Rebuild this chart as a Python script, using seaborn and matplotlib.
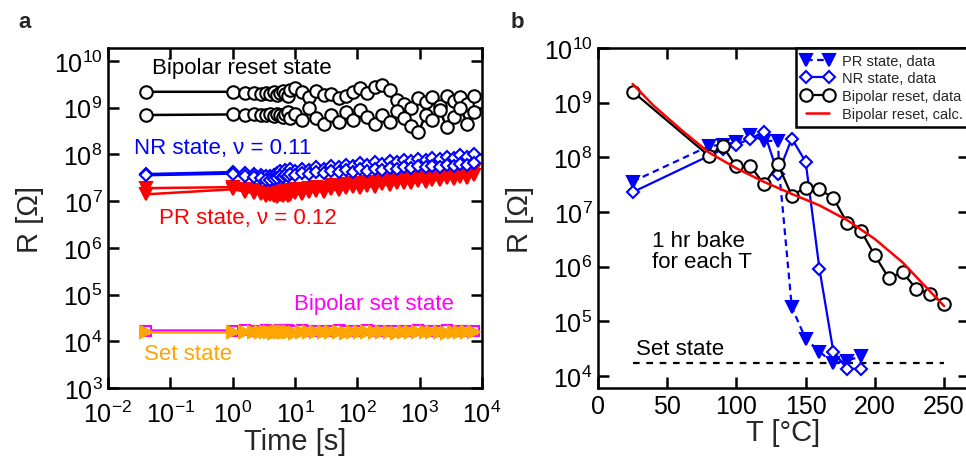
import numpy as np
import pandas as pd
import matplotlib
matplotlib.use("Agg")
import matplotlib.pyplot as plt
import seaborn as sns
from matplotlib.ticker import FixedLocator, FixedFormatter, NullLocator

# ---------------- data: panel a ----------------
time_s = [0.04, 1, 1.6, 2.2, 2.8, 3.4, 4, 4.6, 5.2, 5.8, 6.4, 7, 7.6, 8.3, 10, 13, 17, 22, 29,
          38, 50, 65, 85, 110, 145, 190, 250, 330, 430, 560, 730, 950, 1250, 1600, 2100,
          2700, 3500, 4500, 5800, 7500]
reset_a = [2.2e9, 2.2e9, 2.1e9, 2.1e9, 2.0e9, 2.1e9, 2.0e9, 2.2e9, 1.9e9, 2.1e9, 2.3e9, 2.0e9,
           1.8e9, 2.4e9, 2.6e9, 2.2e9, 1.7e9, 2.3e9, 1.9e9, 2.0e9, 1.6e9, 1.8e9, 2.2e9, 2.6e9,
           2.1e9, 2.8e9, 3.0e9, 2.4e9, 1.5e9, 1.2e9, 1.0e9, 1.6e9, 1.3e9, 1.7e9, 1.1e9, 1.8e9,
           1.4e9, 1.7e9, 1.2e9, 1.8e9]
reset_b = [7.0e8, 7.2e8, 7.0e8, 7.3e8, 6.9e8, 7.1e8, 7.4e8, 6.8e8, 7.5e8, 7.0e8, 6.5e8, 7.2e8,
           8.0e8, 6.0e8, 7.5e8, 5.5e8, 1.0e9, 6.0e8, 4.5e8, 7.0e8, 5.0e8, 8.0e8, 5.5e8, 9.0e8,
           6.5e8, 4.5e8, 7.0e8, 5.0e8, 8.5e8, 6.0e8, 4.0e8, 3.0e8, 7.0e8, 5.5e8, 9.0e8, 3.8e8,
           6.5e8, 1.0e9, 4.5e8, 8.0e8]
nr_a = [3.8e7, 4.2e7, 4.0e7, 3.8e7, 3.6e7, 3.5e7, 3.4e7, 3.6e7, 4.0e7, 4.4e7, 4.0e7, 4.6e7,
        4.2e7, 4.8e7, 4.5e7, 5.0e7, 4.6e7, 5.4e7, 5.0e7, 5.8e7, 5.3e7, 6.0e7, 5.6e7, 6.5e7,
        6.0e7, 6.8e7, 6.3e7, 7.2e7, 6.8e7, 7.6e7, 7.2e7, 8.0e7, 7.6e7, 8.5e7, 8.0e7, 9.0e7,
        8.6e7, 9.6e7, 9.0e7, 1.0e8]
nr_b = [3.6e7, 3.9e7, 3.5e7, 3.3e7, 3.1e7, 2.9e7, 2.8e7, 3.0e7, 3.2e7, 3.4e7, 3.3e7, 3.6e7,
        3.4e7, 3.8e7, 3.6e7, 4.0e7, 3.8e7, 4.2e7, 4.0e7, 4.4e7, 4.2e7, 4.6e7, 4.3e7, 4.8e7,
        4.5e7, 5.0e7, 4.7e7, 5.2e7, 4.9e7, 5.4e7, 5.1e7, 5.6e7, 5.3e7, 5.8e7, 5.5e7, 6.0e7,
        5.7e7, 6.2e7, 5.9e7, 6.5e7]
pr_a = [1.9e7, 2.0e7, 1.8e7, 1.7e7, 1.6e7, 1.5e7, 1.6e7, 1.5e7, 1.4e7, 1.6e7, 1.5e7, 1.7e7,
        1.5e7, 1.6e7, 1.8e7, 1.7e7, 1.9e7, 2.0e7, 1.9e7, 2.2e7, 2.1e7, 2.3e7, 2.4e7, 2.3e7,
        2.6e7, 2.5e7, 2.8e7, 2.7e7, 3.0e7, 3.1e7, 3.0e7, 3.4e7, 3.3e7, 3.6e7, 3.5e7, 3.9e7,
        3.8e7, 4.2e7, 4.1e7, 4.6e7]
pr_b = [1.4e7, 1.8e7, 1.6e7, 1.5e7, 1.4e7, 1.3e7, 1.35e7, 1.3e7, 1.25e7, 1.35e7, 1.3e7, 1.4e7,
        1.3e7, 1.35e7, 1.5e7, 1.4e7, 1.6e7, 1.65e7, 1.6e7, 1.8e7, 1.7e7, 1.9e7, 2.0e7, 1.9e7,
        2.1e7, 2.0e7, 2.3e7, 2.2e7, 2.4e7, 2.5e7, 2.4e7, 2.7e7, 2.6e7, 2.9e7, 2.8e7, 3.1e7,
        3.0e7, 3.3e7, 3.2e7, 3.6e7]
bipolar_set = [1.7e4, 1.7e4, 1.75e4, 1.7e4, 1.7e4, 1.72e4, 1.7e4, 1.68e4, 1.7e4, 1.72e4, 1.7e4,
               1.7e4, 1.71e4, 1.7e4, 1.7e4, 1.72e4, 1.7e4, 1.69e4, 1.7e4, 1.7e4, 1.71e4, 1.7e4,
               1.7e4, 1.7e4, 1.72e4, 1.7e4, 1.7e4, 1.7e4, 1.69e4, 1.7e4, 1.7e4, 1.71e4, 1.7e4,
               1.7e4, 1.7e4, 1.72e4, 1.7e4, 1.7e4, 1.7e4, 1.7e4]
set_state = [1.55e4, 1.55e4, 1.58e4, 1.56e4, 1.55e4, 1.57e4, 1.55e4, 1.54e4, 1.56e4, 1.55e4,
             1.57e4, 1.55e4, 1.56e4, 1.55e4, 1.54e4, 1.56e4, 1.55e4, 1.57e4, 1.55e4, 1.56e4,
             1.55e4, 1.54e4, 1.56e4, 1.55e4, 1.57e4, 1.55e4, 1.56e4, 1.55e4, 1.54e4, 1.56e4,
             1.55e4, 1.57e4, 1.55e4, 1.56e4, 1.55e4, 1.54e4, 1.56e4, 1.55e4, 1.57e4, 1.55e4]

# ---------------- data: panel b ----------------
T_pr = [25, 80, 90, 100, 110, 120, 130, 131, 133, 140, 150, 160, 170, 180, 190]
R_pr = [3.6e7, 1.6e8, 1.7e8, 1.9e8, 2.6e8, 2.0e8, 2.0e8, 5.0e7, 1.5e7, 1.8e5, 4.8e4, 2.8e4,
        1.7e4, 1.9e4, 2.3e4]
pr_marked = [0, 1, 2, 3, 4, 5, 6, 9, 10, 11, 12, 13, 14]
T_nr = [25, 90, 100, 110, 120, 130, 140, 150, 160, 170, 180, 190]
R_nr = [2.3e7, 1.4e8, 1.7e8, 2.2e8, 2.9e8, 5.0e7, 2.2e8, 8.3e7, 9.0e5, 2.8e4, 1.35e4, 1.35e4]
T_reset = [25, 80, 90, 100, 110, 120, 130, 140, 150, 160, 170, 180, 190, 200, 210, 220, 230,
           240, 250]
R_reset = [1.6e9, 1.07e8, 1.6e8, 6.8e7, 7.0e7, 3.2e7, 7.4e7, 2.0e7, 2.8e7, 2.6e7, 1.8e7, 6.3e6,
           4.5e6, 1.6e6, 6.2e5, 7.9e5, 3.9e5, 3.2e5, 2.1e5]
T_calc = [25, 40, 60, 80, 100, 120, 140, 160, 180, 200, 220, 240, 250]
R_calc = [2.2e9, 8.9e8, 3.2e8, 1.23e8, 6.3e7, 3.55e7, 2.14e7, 1.32e7, 7.1e6, 3.2e6, 1.2e6,
          3.5e5, 1.9e5]
T_set = [25, 250]
R_set = [1.7e4, 1.7e4]

# ---------------- style ----------------
sns.set_style("ticks")
plt.rcParams["font.family"] = ["Liberation Sans", "DejaVu Sans"]
plt.rcParams["mathtext.fontset"] = "custom"
plt.rcParams["mathtext.rm"] = "Liberation Sans"
plt.rcParams["mathtext.it"] = "Liberation Sans:italic"
plt.rcParams["mathtext.bf"] = "Liberation Sans:bold"

BLUE = "#0000ff"
RED = "#ff0000"
MAG = "#ff00ff"
ORANGE = "#ffa500"

fig = plt.figure(figsize=(9.66, 4.6), dpi=100)
ax1 = fig.add_axes([108 / 966, 71 / 460, 374 / 966, 340 / 460])
ax2 = fig.add_axes([598 / 966, 71 / 460, 371 / 966, 340 / 460])


def line(ax, x, y, color, marker=None, ms=8, mfc="white", mew=1.5, lw=1.5, ls="-",
         label=None, markevery=None, zorder=2):
    df = pd.DataFrame({"x": x, "y": y})
    kw = dict(color=color, lw=lw, linestyle=ls, zorder=zorder)
    if marker is not None:
        kw.update(marker=marker, markersize=ms, markerfacecolor=mfc,
                  markeredgecolor=color, markeredgewidth=mew)
        if markevery is not None:
            kw["markevery"] = markevery
    sns.lineplot(data=df, x="x", y="y", ax=ax, estimator=None, sort=False,
                 label=label, legend=False, **kw)


# ---------------- panel a ----------------
ax1.set_xscale("log")
ax1.set_yscale("log")
line(ax1, time_s, reset_a, "black", "o", ms=9, lw=1.8)
line(ax1, time_s, reset_b, "black", "o", ms=9, lw=1.8)
line(ax1, time_s, pr_a, RED, "v", ms=9, mfc=RED, lw=1.8)
line(ax1, time_s, pr_b, RED, "v", ms=9, mfc=RED, lw=1.8)
line(ax1, time_s, nr_a, BLUE, "D", ms=6.5, lw=1.8)
line(ax1, time_s, nr_b, BLUE, "D", ms=6.5, lw=1.8)
line(ax1, time_s, bipolar_set, MAG, "s", ms=7, lw=1.8)
line(ax1, time_s, set_state, ORANGE, ">", ms=9, mfc=ORANGE, lw=1.8)

ax1.set_xlim(1e-2, 1e4)
ax1.set_ylim(1e3, 10 ** 10.28)
xt = [1e-2, 1e-1, 1e0, 1e1, 1e2, 1e3, 1e4]
ax1.xaxis.set_major_locator(FixedLocator(xt))
ax1.xaxis.set_major_formatter(FixedFormatter([r"$10^{%d}$" % e for e in range(-2, 5)]))
ax1.xaxis.set_minor_locator(NullLocator())
yt = [10.0 ** e for e in range(3, 11)]
ax1.yaxis.set_major_locator(FixedLocator(yt))
ax1.yaxis.set_major_formatter(FixedFormatter([r"$10^{%d}$" % e for e in range(3, 11)]))
ax1.yaxis.set_minor_locator(NullLocator())
ax1.set_xlabel("Time [s]", fontsize=21, labelpad=0)
ax1.set_ylabel("R [Ω]", fontsize=21, labelpad=7)

ax1.text(0.05, 10 ** 9.87, "Bipolar reset state", fontsize=16, color="black",
         ha="left", va="center")
ax1.text(0.026, 10 ** 8.14, "NR state, ν = 0.11", fontsize=16, color=BLUE,
         ha="left", va="center")
ax1.text(0.066, 10 ** 6.66, "PR state, ν = 0.12", fontsize=16, color=RED,
         ha="left", va="center")
ax1.text(9.5, 10 ** 4.8, "Bipolar set state", fontsize=16, color=MAG,
         ha="left", va="center")
ax1.text(0.038, 10 ** 3.73, "Set state", fontsize=16, color=ORANGE,
         ha="left", va="center")

# ---------------- panel b ----------------
ax2.set_yscale("log")
line(ax2, T_set, R_set, "black", lw=1.6, ls=(0, (3, 3)), zorder=1)
line(ax2, T_reset, R_reset, "black", "o", ms=9, lw=1.6, label="Bipolar reset, data", zorder=3)
line(ax2, T_calc, R_calc, RED, lw=1.8, label="Bipolar reset, calc.", zorder=4)
line(ax2, T_pr, R_pr, BLUE, "v", ms=8, mfc=BLUE, lw=1.6, ls=(0, (3, 2)),
     label="PR state, data", markevery=pr_marked, zorder=2)
line(ax2, T_nr, R_nr, BLUE, "D", ms=6.5, lw=1.6, label="NR state, data", zorder=2)

ax2.set_xlim(0, 268)
ax2.set_ylim(10 ** 3.78, 1e10)
ax2.xaxis.set_major_locator(FixedLocator([0, 50, 100, 150, 200, 250]))
ax2.xaxis.set_minor_locator(NullLocator())
yt2 = [10.0 ** e for e in range(4, 11)]
ax2.yaxis.set_major_locator(FixedLocator(yt2))
ax2.yaxis.set_major_formatter(FixedFormatter([r"$10^{%d}$" % e for e in range(4, 11)]))
ax2.yaxis.set_minor_locator(NullLocator())
ax2.set_xlabel("T [°C]", fontsize=21, labelpad=0)
ax2.set_ylabel("R [Ω]", fontsize=21, labelpad=7)

ax2.text(39, 10 ** 6.29, "1 hr bake\nfor each T", fontsize=16, color="black",
         ha="left", va="center", linespacing=1.0)
ax2.text(27.6, 10 ** 4.5, "Set state", fontsize=16, color="black", ha="left", va="center")

handles, labels = ax2.get_legend_handles_labels()
order = ["PR state, data", "NR state, data", "Bipolar reset, data", "Bipolar reset, calc."]
hmap = dict(zip(labels, handles))
leg = ax2.legend([hmap[k] for k in order], order, loc="upper right", borderaxespad=0,
                 numpoints=2, fontsize=10.5, frameon=True, fancybox=False, framealpha=1,
                 edgecolor="black", handlelength=2.2, handletextpad=0.6,
                 labelspacing=0.25, borderpad=0.4)
leg.get_frame().set_linewidth(1.8)

for ax in (ax1, ax2):
    for sp in ax.spines.values():
        sp.set_visible(True)
        sp.set_linewidth(1.8)
        sp.set_color("black")
    ax.tick_params(which="major", direction="in", length=8, width=1.8, top=True,
                   right=True, colors="black", labelsize=18, pad=4)
    ax.grid(False)
ax1.tick_params(axis="x", pad=9)

fig.text(18 / 966, 1 - 22 / 460, "a", fontsize=16, fontweight="bold", ha="left", va="center")
fig.text(511 / 966, 1 - 22 / 460, "b", fontsize=16, fontweight="bold", ha="left", va="center")

fig.savefig("out.png", dpi=100)
